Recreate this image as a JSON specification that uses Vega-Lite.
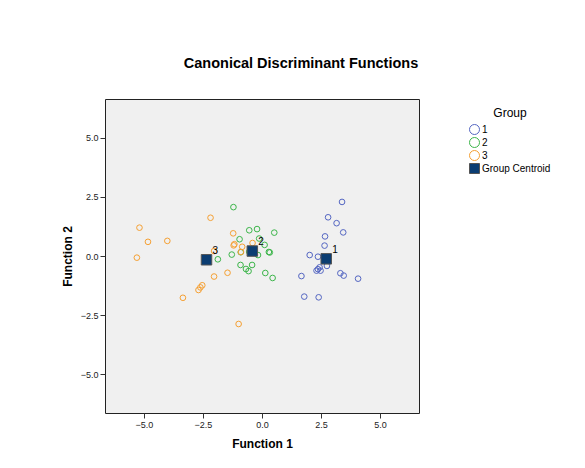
{
  "$schema": "https://vega.github.io/schema/vega-lite/v6.json",
  "autosize": {"type": "none"},
  "padding": {"left": 105, "top": 99, "right": 166, "bottom": 55},
  "width": 314,
  "height": 314,
  "background": "white",
  "title": {
    "text": "Canonical Discriminant Functions",
    "font": "Liberation Sans",
    "fontSize": 14.5,
    "fontWeight": "bold",
    "color": "#000000",
    "anchor": "middle",
    "dx": 39,
    "offset": 28
  },
  "config": {
    "view": {"fill": "#F0F0F0", "stroke": "#222222", "strokeWidth": 1},
    "axis": {
      "font": "Liberation Sans",
      "labelFont": "Liberation Sans",
      "titleFont": "Liberation Sans",
      "labelFontSize": 9,
      "labelColor": "#222222",
      "titleFontSize": 12,
      "titleFontWeight": "bold",
      "titleColor": "#000000",
      "grid": false,
      "domain": false,
      "tickColor": "#333333",
      "tickSize": 5,
      "labelPadding": 2
    },
    "legend": {
      "labelFont": "Liberation Sans",
      "titleFont": "Liberation Sans"
    }
  },
  "data": {
    "values": [
      {"f1": 3.39, "f2": 2.29, "Group": "1", "kind": "case"},
      {"f1": 2.80, "f2": 1.64, "Group": "1", "kind": "case"},
      {"f1": 3.16, "f2": 1.39, "Group": "1", "kind": "case"},
      {"f1": 3.44, "f2": 1.00, "Group": "1", "kind": "case"},
      {"f1": 2.67, "f2": 0.83, "Group": "1", "kind": "case"},
      {"f1": 2.65, "f2": 0.44, "Group": "1", "kind": "case"},
      {"f1": 2.02, "f2": 0.04, "Group": "1", "kind": "case"},
      {"f1": 2.37, "f2": -0.03, "Group": "1", "kind": "case"},
      {"f1": 2.75, "f2": -0.42, "Group": "1", "kind": "case"},
      {"f1": 2.44, "f2": -0.48, "Group": "1", "kind": "case"},
      {"f1": 2.37, "f2": -0.56, "Group": "1", "kind": "case"},
      {"f1": 2.31, "f2": -0.62, "Group": "1", "kind": "case"},
      {"f1": 2.48, "f2": -0.62, "Group": "1", "kind": "case"},
      {"f1": 1.67, "f2": -0.85, "Group": "1", "kind": "case"},
      {"f1": 3.32, "f2": -0.73, "Group": "1", "kind": "case"},
      {"f1": 3.46, "f2": -0.83, "Group": "1", "kind": "case"},
      {"f1": 4.07, "f2": -0.96, "Group": "1", "kind": "case"},
      {"f1": 1.79, "f2": -1.72, "Group": "1", "kind": "case"},
      {"f1": 2.40, "f2": -1.75, "Group": "1", "kind": "case"},
      {"f1": -1.21, "f2": 2.07, "Group": "2", "kind": "case"},
      {"f1": -0.54, "f2": 1.09, "Group": "2", "kind": "case"},
      {"f1": -0.21, "f2": 1.14, "Group": "2", "kind": "case"},
      {"f1": 0.52, "f2": 0.99, "Group": "2", "kind": "case"},
      {"f1": -0.95, "f2": 0.71, "Group": "2", "kind": "case"},
      {"f1": -0.12, "f2": 0.74, "Group": "2", "kind": "case"},
      {"f1": 0.11, "f2": 0.47, "Group": "2", "kind": "case"},
      {"f1": 0.29, "f2": 0.17, "Group": "2", "kind": "case"},
      {"f1": 0.33, "f2": 0.15, "Group": "2", "kind": "case"},
      {"f1": -0.17, "f2": 0.04, "Group": "2", "kind": "case"},
      {"f1": -0.90, "f2": 0.16, "Group": "2", "kind": "case"},
      {"f1": -1.28, "f2": 0.06, "Group": "2", "kind": "case"},
      {"f1": -1.87, "f2": -0.14, "Group": "2", "kind": "case"},
      {"f1": -0.91, "f2": -0.38, "Group": "2", "kind": "case"},
      {"f1": -0.68, "f2": -0.55, "Group": "2", "kind": "case"},
      {"f1": -0.57, "f2": -0.64, "Group": "2", "kind": "case"},
      {"f1": -0.42, "f2": -0.38, "Group": "2", "kind": "case"},
      {"f1": 0.14, "f2": -0.72, "Group": "2", "kind": "case"},
      {"f1": 0.45, "f2": -0.93, "Group": "2", "kind": "case"},
      {"f1": -0.54, "f2": 0.18, "Group": "2", "kind": "case"},
      {"f1": -5.19, "f2": 1.20, "Group": "3", "kind": "case"},
      {"f1": -4.83, "f2": 0.60, "Group": "3", "kind": "case"},
      {"f1": -4.01, "f2": 0.64, "Group": "3", "kind": "case"},
      {"f1": -5.30, "f2": -0.07, "Group": "3", "kind": "case"},
      {"f1": -2.18, "f2": 1.62, "Group": "3", "kind": "case"},
      {"f1": -1.22, "f2": 0.96, "Group": "3", "kind": "case"},
      {"f1": -1.17, "f2": 0.50, "Group": "3", "kind": "case"},
      {"f1": -1.20, "f2": 0.45, "Group": "3", "kind": "case"},
      {"f1": -0.84, "f2": 0.39, "Group": "3", "kind": "case"},
      {"f1": -0.40, "f2": 0.55, "Group": "3", "kind": "case"},
      {"f1": -0.89, "f2": 0.17, "Group": "3", "kind": "case"},
      {"f1": -2.03, "f2": 0.21, "Group": "3", "kind": "case"},
      {"f1": -2.03, "f2": -0.87, "Group": "3", "kind": "case"},
      {"f1": -1.46, "f2": -0.71, "Group": "3", "kind": "case"},
      {"f1": -2.53, "f2": -1.24, "Group": "3", "kind": "case"},
      {"f1": -2.61, "f2": -1.33, "Group": "3", "kind": "case"},
      {"f1": -2.69, "f2": -1.44, "Group": "3", "kind": "case"},
      {"f1": -3.35, "f2": -1.77, "Group": "3", "kind": "case"},
      {"f1": -0.99, "f2": -2.88, "Group": "3", "kind": "case"},
      {"f1": 2.72, "f2": -0.12, "Group": "Group Centroid", "kind": "centroid", "label": "1"},
      {"f1": -0.41, "f2": 0.21, "Group": "Group Centroid", "kind": "centroid", "label": "2"},
      {"f1": -2.35, "f2": -0.16, "Group": "Group Centroid", "kind": "centroid", "label": "3"}
    ]
  },
  "encoding": {
    "x": {
      "field": "f1",
      "type": "quantitative",
      "title": "Function 1",
      "scale": {"domain": [-6.65, 6.65], "nice": false, "zero": false},
      "axis": {"values": [-5, -2.5, 0, 2.5, 5], "format": ".1f", "titlePadding": 9}
    },
    "y": {
      "field": "f2",
      "type": "quantitative",
      "title": "Function 2",
      "scale": {"domain": [-6.65, 6.65], "nice": false, "zero": false},
      "axis": {"values": [-5, -2.5, 0, 2.5, 5], "format": ".1f", "titlePadding": 6}
    }
  },
  "layer": [
    {
      "transform": [{"filter": "datum.kind === 'case'"}],
      "mark": {"type": "point", "filled": true, "size": 32, "strokeWidth": 1, "opacity": 1},
      "encoding": {
        "stroke": {
          "field": "Group", "type": "nominal",
          "scale": {"domain": ["1", "2", "3", "Group Centroid"], "range": ["#5466C2", "#3CB54A", "#F5A033", "#555555"]},
          "legend": {
            "title": "Group",
            "orient": "none",
            "legendX": 364,
            "legendY": 9,
            "titleFontSize": 12,
            "titleFontWeight": "normal",
            "titleColor": "#000000",
            "titleAnchor": "middle",
            "titlePadding": 4,
            "labelFontSize": 10,
            "labelColor": "#000000",
            "labelOffset": 2,
            "symbolSize": 100,
            "symbolStrokeWidth": 1,
            "rowPadding": -3
          }
        },
        "fill": {
          "field": "Group", "type": "nominal",
          "scale": {"domain": ["1", "2", "3", "Group Centroid"], "range": ["transparent", "transparent", "transparent", "#0B3D72"]},
          "legend": {"title": "Group"}
        },
        "shape": {
          "field": "Group", "type": "nominal",
          "scale": {"domain": ["1", "2", "3", "Group Centroid"], "range": ["circle", "circle", "circle", "square"]},
          "legend": {"title": "Group"}
        }
      }
    },
    {
      "transform": [{"filter": "datum.kind === 'centroid'"}],
      "mark": {"type": "point", "filled": true, "size": 110, "strokeWidth": 1, "opacity": 1},
      "encoding": {
        "stroke": {"field": "Group", "type": "nominal"},
        "fill": {"field": "Group", "type": "nominal"},
        "shape": {"field": "Group", "type": "nominal"}
      }
    },
    {
      "transform": [{"filter": "datum.kind === 'centroid'"}],
      "mark": {"type": "text", "align": "left", "baseline": "middle", "dx": 6, "dy": -9, "font": "Liberation Sans", "fontSize": 10, "color": "#000000"},
      "encoding": {
        "text": {"field": "label", "type": "nominal"}
      }
    }
  ]
}
